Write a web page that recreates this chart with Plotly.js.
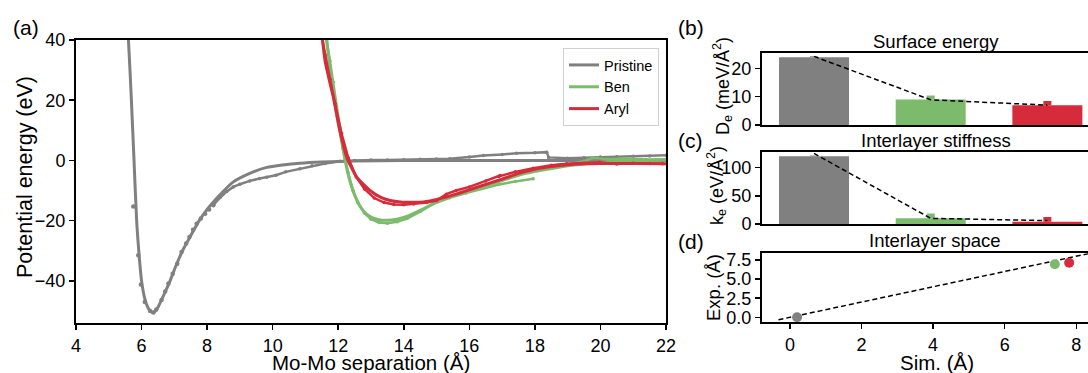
<!DOCTYPE html>
<html><head><meta charset="utf-8">
<script src="https://cdn.plot.ly/plotly-3.0.1.min.js"></script>
<style>html,body{margin:0;padding:0;overflow:hidden;background:#fff}#plot{width:1094px;height:373px}</style>
</head><body><div id="plot"></div>
<script>
// ---------- Panel (a): potential energy vs Mo-Mo separation ----------
const pristineFitX = [5.56, 5.6, 5.69, 5.77, 5.85, 5.93, 6.0, 6.1, 6.2, 6.3, 6.4, 6.5, 6.6, 6.75, 6.87, 7.05, 7.25, 7.5, 7.76, 8.0, 8.3, 8.79, 9.3, 9.82, 10.3, 10.83, 11.5, 12.5, 14, 16, 18, 20, 22];
const pristineFitY = [45, 40, 20, 0, -20, -32, -40, -46, -49, -50.3, -50.3, -48.8, -46.5, -43, -40, -35, -30, -25, -20, -16.3, -12.5, -7.2, -4.3, -2.3, -1.5, -0.9, -0.5, -0.2, -0.05, 0, 0, 0, 0];
const pristineDotsX = [5.75, 5.9, 5.98, 6.1, 6.26, 6.36, 6.45, 6.61, 6.72, 6.82, 6.95, 7.09, 7.22, 7.36, 7.46, 7.57, 7.68, 7.81, 7.94, 8.06, 8.19];
const pristineDotsY = [-15.3, -31.5, -41.2, -47, -50, -50.5, -49.5, -46.4, -43.5, -40.9, -37.6, -34.3, -30.4, -27.6, -25.4, -23, -21, -19.3, -17.7, -16.3, -14.9];
const pristineDataX = [8.19, 8.4, 8.6, 8.8, 9.0, 9.3, 9.6, 9.82, 10.1, 10.4, 10.83, 11.2, 11.6, 12.05, 12.5, 13, 13.5, 14, 14.5, 15, 15.4, 16, 16.43, 17, 17.44, 18, 18.36, 18.42, 19, 19.5, 20, 20.5, 21, 21.5, 22];
const pristineDataY = [-14.9, -12.3, -10.3, -8.8, -7.9, -6.8, -6.0, -5.6, -4.9, -3.8, -2.8, -1.8, -1.0, -0.3, 0, 0.1, 0.15, 0.2, 0.35, 0.45, 0.55, 1.1, 1.66, 2.0, 2.4, 2.55, 2.75, 1.0, 0.7, 0.9, 1.1, 1.2, 1.4, 1.5, 1.7];

const benFitX = [11.62, 11.7, 11.8, 11.95, 12.1, 12.2, 12.36, 12.56, 12.75, 12.97, 13.2, 13.48, 13.8, 14.09, 14.5, 15.1, 15.6, 16.12, 16.6, 17.13, 17.6, 18.2, 19, 20, 21, 22];
const benFitY = [42, 35, 27, 15.5, 6.6, 0.5, -7.0, -13.0, -16.5, -18.6, -19.6, -19.9, -19.5, -18.6, -16.6, -13.3, -11.2, -9.4, -8.0, -6.2, -4.6, -3.3, -1.8, -0.6, -0.2, 0.1];
const benDataX = [11.65, 11.75, 11.85, 11.95, 12.05, 12.15, 12.3, 12.45, 12.6, 12.8, 13.0, 13.25, 13.5, 13.8, 14.1, 14.5, 14.9, 15.4, 15.9, 16.4, 16.9, 17.4, 17.95, null, 18.2, 18.7, 19.2, 19.5, 19.78, 20.2, 20.8, 21.4, 22];
const benDataY = [40, 33, 26, 18, 11, 4, -4, -10, -14, -17.5, -19.5, -20.6, -20.9, -20.4, -19.3, -17, -14.4, -12.4, -10.8, -9.3, -8.0, -7.0, -6.1, null, -2.6, -1.6, -0.9, -0.3, 0.9, 0.4, 0.6, 0.3, 0.4];

const arylFitX = [11.5, 11.6, 11.7, 11.85, 12.05, 12.26, 12.56, 12.97, 13.3, 13.58, 13.9, 14.3, 14.6, 15.1, 15.6, 16.1, 16.6, 17.0, 17.5, 17.95, 18.5, 19, 20, 21, 22];
const arylFitY = [42, 33, 28, 21, 10, 1.1, -5.5, -10, -12.3, -13.3, -13.8, -13.9, -13.8, -12.7, -11.2, -9.4, -7.6, -6.2, -4.3, -3.0, -2.0, -1.4, -1.0, -1.0, -1.1];
const arylDataX = [11.5, 11.6, 11.75, 11.9, 12.1, 12.3, 12.55, 12.8, 13.1, 13.4, 13.7, 14.0, 14.3, 14.7, 15.0, 15.3, 15.6, 16.0, 16.5, 16.94, null, 16.9, 17.4, 17.95, 18.5, 18.97, 19.5, 19.98, 20.5, 21, 21.5, 21.9];
const arylDataY = [41, 35, 27, 19, 9, 1, -5.5, -9.5, -12.5, -14, -14.6, -14.7, -14.5, -14.0, -13.3, -11.2, -10.0, -8.8, -6.8, -5.0, null, -5.3, -3.8, -2.6, -1.6, -1.1, -0.9, -0.6, -1.2, -0.9, -1.0, -1.1];

// ---------- Panels (b)-(d) ----------
const systems = ['Pristine', 'Ben', 'Aryl'];
const deBar = [23.9, 9.0, 7.0];
const deErr = [0.4, 1.4, 1.5];
const deFit = [24.2, 8.9, 7.0];
const keBar = [120, 10, 4];
const keErr = [1.5, 8.4, 8.5];
const keFit = [125, 10, 6];
const simSpace = [0.2, 7.4, 7.8];
const expSpace = [0.0, 6.95, 7.15];
const parityLine = [-0.32, 8.45];

const colors = ['#808080', '#7dbb6c', '#d62b3b'];
const W = 1094, H = 373;
const FONT = '"Liberation Sans", Arial, sans-serif';
const dx = (a, b) => [a / W, b / W];
const dy = (top, bottom) => [1 - bottom / H, 1 - top / H];

const traces = [];
// panel (a)
const fits = [[pristineFitX, pristineFitY], [benFitX, benFitY], [arylFitX, arylFitY]];
const datas = [[pristineDataX, pristineDataY], [benDataX, benDataY], [arylDataX, arylDataY]];
traces.push({x: pristineDotsX, y: pristineDotsY, mode: 'markers', marker: {color: colors[0], size: 4.5}, showlegend: false, xaxis: 'x', yaxis: 'y', hoverinfo: 'skip'});
for (let i = 0; i < 3; i++) {
  traces.push({x: datas[i][0], y: datas[i][1], mode: 'lines+markers', line: {color: colors[i], width: 2.5}, marker: {color: colors[i], size: 3.5}, connectgaps: false, showlegend: false, xaxis: 'x', yaxis: 'y', hoverinfo: 'skip'});
  traces.push({x: fits[i][0], y: fits[i][1], mode: 'lines', name: systems[i], line: {color: colors[i], width: 3, shape: 'spline', smoothing: 0.6}, xaxis: 'x', yaxis: 'y'});
}
// panels (b),(c)
const barPanels = [[deBar, deErr, deFit, 'x2', 'y2'], [keBar, keErr, keFit, 'x3', 'y3']];
barPanels.forEach(([vals, errs, fit, xa, ya]) => {
  for (let i = 0; i < 3; i++) {
    traces.push({type: 'bar', x: [systems[i]], y: [vals[i]], width: 0.6, marker: {color: colors[i]},
      error_y: {type: 'data', array: [errs[i]], arrayminus: [0], symmetric: false, thickness: 8, width: 0, color: colors[i]},
      showlegend: false, xaxis: xa, yaxis: ya});
  }
  traces.push({x: systems, y: fit, mode: 'lines', line: {color: '#000', width: 1.5, dash: '5px,3px'}, showlegend: false, xaxis: xa, yaxis: ya});
});
// panel (d)
traces.push({x: parityLine, y: parityLine, mode: 'lines', line: {color: '#000', width: 1.5, dash: '5px,3px'}, showlegend: false, xaxis: 'x4', yaxis: 'y4'});
traces.push({x: simSpace, y: expSpace, mode: 'markers', marker: {color: colors, size: 10}, showlegend: false, xaxis: 'x4', yaxis: 'y4'});

const axBase = {showline: true, linecolor: '#000', linewidth: 2, mirror: true, showgrid: false, zeroline: false,
  ticks: 'outside', ticklen: 5, tickwidth: 1.5, tickcolor: '#000', tickfont: {size: 18, color: '#000', family: FONT}};
const px = dx(762, 1091);

function note(text, x, y, size, angle) {
  return {text: text, x: x / W, y: 1 - y / H, xref: 'paper', yref: 'paper', xanchor: 'center', yanchor: 'middle',
    showarrow: false, borderpad: 0, textangle: angle || 0, font: {size: size, family: FONT, color: '#000'}};
}

const layout = {
  width: W, height: H, margin: {l: 0, r: 0, t: 0, b: 0}, paper_bgcolor: '#fff', plot_bgcolor: '#fff',
  font: {family: FONT, color: '#000'}, barmode: 'overlay', showlegend: true,
  legend: {x: 563 / W, y: 1 - 48 / H, xanchor: 'left', yanchor: 'top', bgcolor: '#fff', bordercolor: '#d0d0d0', borderwidth: 1, font: {size: 14.5, family: FONT}, tracegroupgap: 0},
  xaxis: Object.assign({}, axBase, {domain: dx(76, 666), range: [4, 22], tickvals: [4, 6, 8, 10, 12, 14, 16, 18, 20, 22], anchor: 'y'}),
  yaxis: Object.assign({}, axBase, {domain: dy(40, 323), range: [-54, 40], tickvals: [-40, -20, 0, 20, 40], anchor: 'x'}),
  xaxis2: Object.assign({}, axBase, {domain: px, range: [-0.446, 2.374], anchor: 'y2', showticklabels: false, ticks: '', type: 'category'}),
  yaxis2: Object.assign({}, axBase, {domain: dy(53.3, 125), range: [0, 25.3], tickvals: [0, 10, 20], anchor: 'x2'}),
  xaxis3: Object.assign({}, axBase, {domain: px, range: [-0.446, 2.374], anchor: 'y3', showticklabels: false, ticks: '', type: 'category'}),
  yaxis3: Object.assign({}, axBase, {domain: dy(152.3, 224), range: [0, 127], tickvals: [0, 50, 100], anchor: 'x3'}),
  xaxis4: Object.assign({}, axBase, {domain: px, range: [-0.78, 8.41], tickvals: [0, 2, 4, 6, 8], anchor: 'y4'}),
  yaxis4: Object.assign({}, axBase, {domain: dy(253.3, 322.3), range: [-0.65, 8.38], tickvals: [0, 2.5, 5, 7.5], tickformat: '.1f', anchor: 'x4'}),
  annotations: [
    note('(a)', 26, 27, 21),
    note('(b)', 691, 27, 21),
    note('(c)', 690, 140, 21),
    note('(d)', 691, 241, 21),
    note('Potential energy (eV)', 25, 177, 21.5, -90),
    note('Mo-Mo separation (Å)', 371, 362, 20.5),
    note('Surface energy', 935.5, 42, 18.5),
    note('Interlayer stiffness', 936, 140, 18.5),
    note('Interlayer space', 935, 240, 18.5),
    note('D<sub>e</sub> (meV/Å<sup>2</sup>)', 723, 86, 18, -90),
    note('k<sub>e</sub> (eV/Å<sup>2</sup>)', 716, 186, 18, -90),
    note('Exp. (Å)', 713, 288, 18.5, -90),
    note('Sim. (Å)', 937, 362, 20.5)
  ]
};

Plotly.newPlot('plot', traces, layout, {displayModeBar: false, staticPlot: true});
</script>
</body></html>
